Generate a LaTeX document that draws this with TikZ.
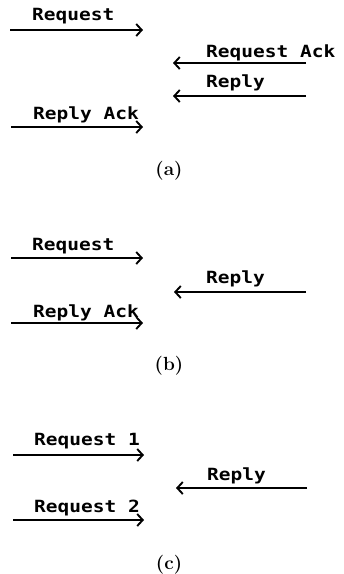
\documentclass[tikz,border=0pt]{standalone}
\usepackage{fontspec}
\usetikzlibrary{arrows.meta}
\newfontfamily\plotfont{DejaVu Sans Mono}[FakeStretch=1.16]
\newfontfamily\partfont{Latin Modern Roman}
\tikzset{
  msg/.style={draw, line width=1.9pt, -{Straight Barb[length=5.5pt,width=12pt,line width=1.9pt]}},
  lbl/.style={anchor=base west, inner sep=0pt, font=\plotfont\bfseries\fontsize{16.8}{20}\selectfont},
  partlabel/.style={inner sep=0pt, font=\partfont\bfseries\fontsize{19}{22}\selectfont}
}
\begin{document}
\begin{tikzpicture}[x=1pt,y=-1pt]
\useasboundingbox (0,0) rectangle (344,574);

% (a) request, request ack, reply, reply ack
\node[lbl] (aReqT) at (32,20) {Request};
\coordinate (aReqS) at (10,30);  \coordinate (aReqE) at (143,30);
\node[lbl] (aAckT) at (206,57) {Request Ack};
\coordinate (aAckS) at (306,63); \coordinate (aAckE) at (173,63);
\node[lbl] (aRepT) at (206,87) {Reply};
\coordinate (aRepS) at (306,96); \coordinate (aRepE) at (173,96);
\node[lbl] (aRAckT) at (33,119) {Reply Ack};
\coordinate (aRAckS) at (11,127); \coordinate (aRAckE) at (143,127);
\draw[msg] (aReqS) -- (aReqE);
\draw[msg] (aAckS) -- (aAckE);
\draw[msg] (aRepS) -- (aRepE);
\draw[msg] (aRAckS) -- (aRAckE);
\node[partlabel] (capA) at (169,171) {(a)};

% (b) request, reply, reply ack
\node[lbl] (bReqT) at (32,250) {Request};
\coordinate (bReqS) at (11,258); \coordinate (bReqE) at (143,258);
\node[lbl] (bRepT) at (206,283) {Reply};
\coordinate (bRepS) at (306,292); \coordinate (bRepE) at (174,292);
\node[lbl] (bRAckT) at (33,317) {Reply Ack};
\coordinate (bRAckS) at (11,323); \coordinate (bRAckE) at (143,323);
\draw[msg] (bReqS) -- (bReqE);
\draw[msg] (bRepS) -- (bRepE);
\draw[msg] (bRAckS) -- (bRAckE);
\node[partlabel] (capB) at (169,366) {(b)};

% (c) two requests, one reply
\node[lbl] (cReq1T) at (34,445) {Request 1};
\coordinate (cReq1S) at (13,455); \coordinate (cReq1E) at (144,455);
\node[lbl] (cRepT) at (207,480) {Reply};
\coordinate (cRepS) at (307,488); \coordinate (cRepE) at (176,488);
\node[lbl] (cReq2T) at (34,512) {Request 2};
\coordinate (cReq2S) at (13,520); \coordinate (cReq2E) at (144,520);
\draw[msg] (cReq1S) -- (cReq1E);
\draw[msg] (cRepS) -- (cRepE);
\draw[msg] (cReq2S) -- (cReq2E);
\node[partlabel] (capC) at (169,565) {(c)};
\end{tikzpicture}
\end{document}
